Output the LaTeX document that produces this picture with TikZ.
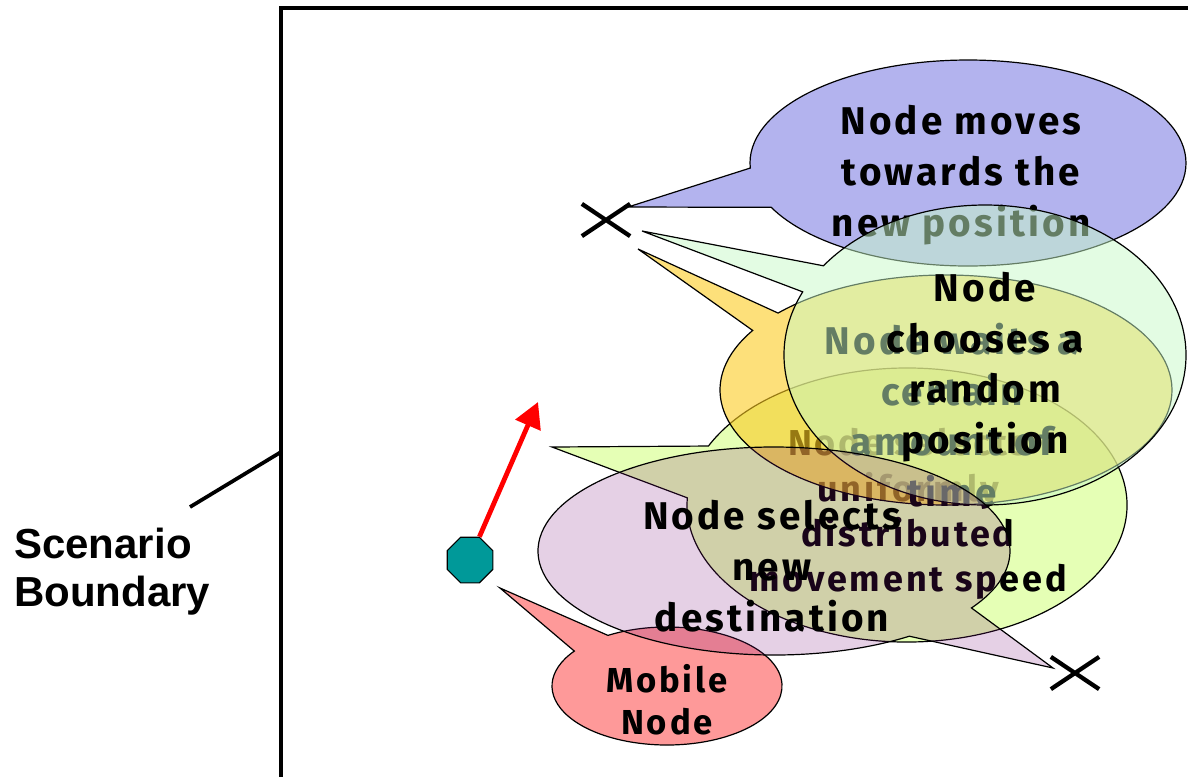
\documentclass[tikz,border=0pt]{standalone}
\usepackage{fontspec}
\usepackage{tikz}
\usetikzlibrary{calc,arrows.meta,shapes.geometric,shapes.misc}

\newfontfamily\bubblefont{Fira Sans}[LetterSpace=8]
\newfontfamily\labelfont{Liberation Sans}

\definecolor{bubbleblue}{RGB}{179,179,238}
\definecolor{bubblegreen}{RGB}{200,250,200}
\definecolor{bubbleorange}{RGB}{252,203,33}
\definecolor{bubblelime}{RGB}{229,255,181}
\definecolor{bubblepurple}{RGB}{125,20,125}
\definecolor{bubblepink}{RGB}{254,153,153}
\definecolor{nodeteal}{RGB}{0,153,153}

\begin{document}
\begin{tikzpicture}[x=0.75pt,y=0.75pt,yscale=-1,xscale=1,
    bubble/.style={draw=black, line width=0.9pt},
    bubbletext/.style={align=center, inner sep=0pt, font=\bubblefont\bfseries\fontsize{29}{38}\selectfont},
    waypoint/.style={cross out, draw, line width=3.2pt, minimum width=33pt, minimum height=21pt, inner sep=0pt},
    motion/.style={red, line width=3.6pt, -{Triangle[length=19pt,width=20pt]}}]
\useasboundingbox (0,0) rectangle (1188,776);

% scenario boundary
\draw [line width=3.4pt] (1192,8) -- (281,8) -- (281,780) ;
\node [anchor=west, align=left, inner sep=0pt, font=\labelfont\bfseries\fontsize{31.5}{36}\selectfont] (scen) at (14,572) {Scenario\\Boundary};
\coordinate (lead) at (190,507);
\coordinate (wall) at (281,452);
\draw [line width=2.8pt] (lead) -- (wall) ;

% moves towards the new position
\coordinate (cA) at (968,163);
\coordinate (tipA) at (628,207);
\path [bubble, fill=bubbleblue] ($(cA)+(154.5:218 and 103)$) -- (tipA) -- ($(cA)+(177.2:218 and 103)$) arc [start angle=177.2, end angle=514.5, x radius=218, y radius=103] -- cycle ;
\node [bubbletext] (txtA) at (961,175) {Node moves\\towards the\\new position};

% uniform speed
\coordinate (cD) at (907,505);
\coordinate (tipD) at (552,447);
\path [bubble, fill=bubblelime] ($(cD)+(183:220 and 137)$) -- (tipD) -- ($(cD)+(205.5:220 and 137)$) arc [start angle=205.5, end angle=543, x radius=220, y radius=137] -- cycle ;
\node [bubbletext, font=\bubblefont\bfseries\fontsize{27}{34}\selectfont] (txtD) at (908,514) {Node selects\\uniformly\\distributed\\movement speed};

% pause time
\coordinate (cC) at (946,390);
\coordinate (tipC) at (638,249);
\path [bubble, fill=bubbleorange, fill opacity=0.6] ($(cC)+(211.2:226 and 115)$) -- (tipC) -- ($(cC)+(222:226 and 115)$) arc [start angle=222, end angle=571.2, x radius=226, y radius=115] -- cycle ;
\node [bubbletext] (txtC) at (952,415) {Node waits a\\certain\\amount of\\time};

% random position
\coordinate (cB) at (985,355);
\coordinate (tipB) at (642,231);
\path [bubble, fill=bubblegreen, fill opacity=0.5] ($(cB)+(204.9:201 and 150)$) -- (tipB) -- ($(cB)+(216.5:201 and 150)$) arc [start angle=216.5, end angle=564.9, x radius=201, y radius=150] -- cycle ;
\node [bubbletext] (txtB) at (985,367) {Node\\chooses a\\random\\position};

% mobile node
\coordinate (cF) at (667,686);
\coordinate (tipF) at (500,588);
\path [bubble, fill=bubblepink] ($(cF)+(216.3:115 and 59)$) -- (tipF) -- ($(cF)+(239.1:115 and 59)$) arc [start angle=239.1, end angle=576.3, x radius=115, y radius=59] -- cycle ;
\node [bubbletext, font=\bubblefont\bfseries\fontsize{26}{31.5}\selectfont] (txtF) at (667,700) {Mobile\\Node};

% new destination
\coordinate (cE) at (774,551);
\coordinate (tipE) at (1053,668);
\path [bubble, fill=bubblepurple, fill opacity=0.2] ($(cE)+(33.2:236 and 104)$) -- (tipE) -- ($(cE)+(55:236 and 104)$) arc [start angle=55, end angle=393.2, x radius=236, y radius=104] -- cycle ;
\node [bubbletext] (txtE) at (772,566) {Node selects\\new\\destination};

% node and its heading
\node [regular polygon, regular polygon sides=8, draw, line width=0.8pt, fill=nodeteal, minimum size=37pt, inner sep=0pt] (mobile) at (470,560) {};
\coordinate (heading) at (538,402);
\draw [motion] (mobile.68) -- (heading) ;

% way points
\node [waypoint] (wpA) at (606,220) {};
\node [waypoint] (wpB) at (1075,673) {};

\end{tikzpicture}
\end{document}
